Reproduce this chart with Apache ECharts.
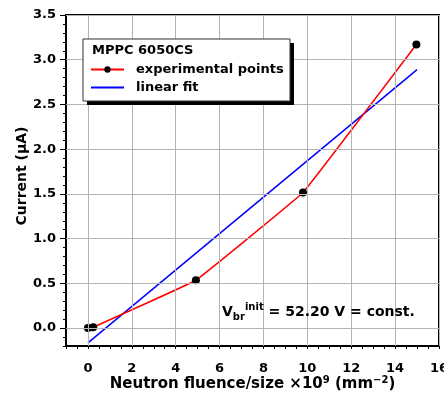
<!DOCTYPE html>
<html>
<head>
<meta charset="utf-8">
<script src="https://cdn.jsdelivr.net/npm/echarts@6/dist/echarts.min.js"></script>
<style>
html,body{margin:0;padding:0;background:#fff;}
#chart{width:444px;height:399px;}
</style>
</head>
<body>
<div id="chart"></div>
<script>
// Data
const expX = [0, 0.24, 4.92, 9.8, 14.97];
const expY = [0, 0.01, 0.535, 1.515, 3.17];
const fitX = [0, 15];
const fitY = [-0.165, 2.89];
const xTickLabels = [0, 2, 4, 6, 8, 10, 12, 14, 16];
const yTickLabels = [0, 0.5, 1.0, 1.5, 2.0, 2.5, 3.0, 3.5];
const seriesNames = ['experimental points', 'linear fit'];
const legendTitle = 'MPPC 6050CS';

const FONT = 'DejaVu Sans';
const chart = echarts.init(document.getElementById('chart'), null, {renderer: 'canvas'});

const gridLineData = xTickLabels.map(v => ({xAxis: v})).concat(yTickLabels.map(v => ({yAxis: v})));

const option = {
  backgroundColor: '#ffffff',
  animation: false,
  grid: {left: 66, right: 5, top: 15, bottom: 53, show: true, borderColor: '#000', borderWidth: 2,
    backgroundColor: 'transparent', containLabel: false, outerBoundsMode: 'none'},
  xAxis: {
    type: 'value', min: -1, max: 16, interval: 0.5,
    name: 'Neutron fluence/size ×10{sup|9} (mm{sup|−2})',
    nameLocation: 'middle', nameGap: 29, nameMoveOverlap: false,
    nameTextStyle: {fontFamily: FONT, fontWeight: 'bold', fontSize: 15, color: '#000', lineHeight: 18,
      rich: {sup: {fontFamily: FONT, fontWeight: 'bold', fontSize: 10, color: '#000', verticalAlign: 'top', lineHeight: 9}}},
    axisLine: {show: true, onZero: false, lineStyle: {color: '#000', width: 2}},
    axisTick: {show: true, length: 3, lineStyle: {color: '#000', width: 1}},
    axisLabel: {customValues: xTickLabels, formatter: v => String(v), fontFamily: FONT, fontWeight: 'bold', fontSize: 13, color: '#000', margin: 16},
    splitLine: {show: false}
  },
  yAxis: [{
    type: 'value', min: -0.2, max: 3.5, interval: 0.1,
    name: 'Current (μA)', nameLocation: 'middle', nameGap: 37, nameMoveOverlap: false,
    nameTextStyle: {fontFamily: FONT, fontWeight: 'bold', fontSize: 14, color: '#000', padding: [0, 0, 0, 9]},
    axisLine: {show: true, onZero: false, lineStyle: {color: '#000', width: 2}},
    axisTick: {show: true, length: 3, lineStyle: {color: '#000', width: 1}},
    axisLabel: {customValues: yTickLabels, formatter: v => v.toFixed(1), fontFamily: FONT, fontWeight: 'bold', fontSize: 13, color: '#000', margin: 10},
    splitLine: {show: false}
  }, {
    type: 'value', min: -0.2, max: 3.5, position: 'left', gridIndex: 0,
    axisLine: {show: false, onZero: false},
    axisTick: {show: true, customValues: yTickLabels, length: 6, lineStyle: {color: '#000', width: 1}},
    axisLabel: {show: false},
    splitLine: {show: false}
  }],
  legend: {
    data: [
      {name: seriesNames[0]},
      {name: seriesNames[1], itemStyle: {color: 'rgba(0,0,0,0)', borderWidth: 0, opacity: 0}}
    ],
    orient: 'vertical', left: 90, top: 63, itemWidth: 33, itemHeight: 8, itemGap: 5,
    padding: 0, z: 20,
    textStyle: {fontFamily: FONT, fontWeight: 'bold', fontSize: 13, color: '#000', padding: [0, 0, 0, 7]}
  },
  graphic: [
    {type: 'rect', z: 10, shape: {x: 87, y: 43, width: 207, height: 62},
      style: {fill: '#000'}},
    {type: 'rect', z: 10, shape: {x: 83, y: 39, width: 207, height: 62},
      style: {fill: '#fff', stroke: '#333', lineWidth: 1}},
    {type: 'text', z: 11, x: 92, y: 51,
      style: {text: legendTitle, fill: '#000', font: 'bold 13px "DejaVu Sans"', verticalAlign: 'middle'}},
    {type: 'text', z: 11, x: 222, y: 312,
      style: {text: 'V{sub|br}{sup|init} = 52.20 V = const.', fill: '#000', font: 'bold 14px "DejaVu Sans"', verticalAlign: 'middle', lineHeight: 20,
        rich: {
          sub: {fontFamily: FONT, fontWeight: 'bold', fontSize: 10, fill: '#000', verticalAlign: 'bottom', lineHeight: 10},
          sup: {fontFamily: FONT, fontWeight: 'bold', fontSize: 10, fill: '#000', verticalAlign: 'top', lineHeight: 10}
        }}}
  ],
  series: [
    {
      type: 'line', name: '_grid', data: [], z: 1, silent: true,
      markLine: {silent: true, symbol: 'none', label: {show: false}, animation: false,
        lineStyle: {color: '#b4b4b4', width: 1, type: 'solid'}, emphasis: {disabled: true},
        data: gridLineData}
    },
    {
      type: 'line', name: seriesNames[0], z: 4,
      data: expX.map((x, i) => [x, expY[i]]),
      smooth: 0.05,
      symbol: 'circle', symbolSize: 8,
      itemStyle: {color: '#000'},
      lineStyle: {color: '#ff0000', width: 1.5}
    },
    {
      type: 'line', name: seriesNames[1], z: 3,
      data: fitX.map((x, i) => [x, fitY[i]]),
      symbol: 'none', showSymbol: false,
      itemStyle: {color: '#0000ff'},
      lineStyle: {color: '#0000ff', width: 1.5}
    }
  ]
};
chart.setOption(option);
</script>
</body>
</html>
